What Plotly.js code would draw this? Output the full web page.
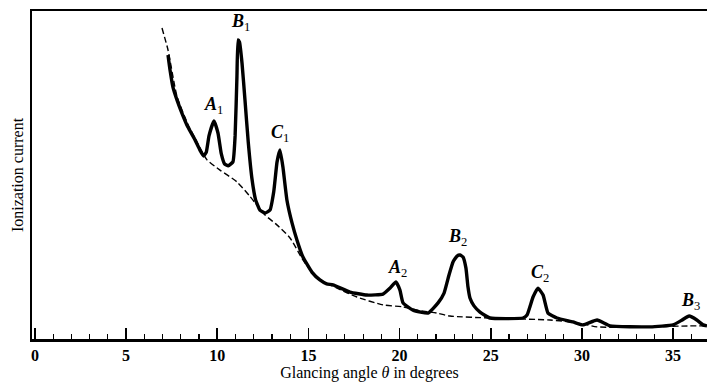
<!DOCTYPE html>
<html>
<head>
<meta charset="utf-8">
<script src="https://cdn.plot.ly/plotly-3.0.1.min.js"></script>
<style>html,body{margin:0;padding:0;background:#fff}#chart{width:707px;height:388px}</style>
</head>
<body>
<div id="chart"></div>
<script>
// Glancing angle (degrees) and ionization current (arbitrary units, 0-100)
const measuredAngle = [7.30, 7.41, 7.57, 7.79, 8.06, 8.39, 8.78, 9.05, 9.25, 9.40, 9.55, 9.82, 10.04, 10.22, 10.40, 10.60, 10.86, 10.98, 11.08, 11.14, 11.22, 11.36, 11.52, 11.70, 11.90, 12.10, 12.34, 12.62, 12.89, 13.10, 13.28, 13.44, 13.60, 13.82, 14.10, 14.37, 14.70, 15.19, 15.63, 16.00, 16.35, 17.28, 18.21, 19.09, 19.47, 19.80, 20.02, 20.19, 20.74, 21.56, 22.11, 22.44, 22.71, 22.93, 23.15, 23.31, 23.48, 23.64, 23.75, 23.86, 24.08, 24.41, 24.96, 26.77, 26.99, 27.32, 27.59, 27.87, 28.14, 28.63, 29.51, 30.06, 30.83, 31.54, 33.74, 35.00, 35.50, 35.88, 36.30, 36.64, 36.86];
const measuredCurrent = [86.6, 82.0, 76.8, 72.9, 68.9, 64.6, 60.7, 57.6, 55.8, 57.0, 62.0, 66.5, 62.8, 56.5, 53.4, 52.8, 54.0, 62.0, 80.0, 91.2, 90.5, 84.0, 72.9, 60.0, 49.0, 42.5, 39.3, 38.4, 39.3, 45.0, 54.0, 57.6, 52.5, 42.4, 35.4, 30.2, 25.0, 20.4, 18.0, 16.8, 16.5, 14.3, 13.4, 13.7, 15.5, 17.4, 14.9, 11.0, 8.8, 7.9, 11.0, 14.0, 19.5, 23.5, 25.3, 25.6, 25.0, 21.6, 15.9, 12.5, 10.1, 8.2, 6.4, 6.4, 7.3, 12.8, 15.5, 13.4, 7.9, 6.4, 5.2, 4.3, 5.8, 4.0, 3.7, 4.3, 5.8, 7.0, 5.8, 4.3, 4.0];

const backgroundAngle = [6.97, 7.30, 7.79, 8.39, 8.89, 9.44, 10.15, 11.08, 11.79, 12.62, 13.27, 13.99, 14.70, 15.47, 16.57, 17.66, 19.09, 20.19, 20.95, 22.05, 22.76, 24.96, 28.25, 29.35, 30.06, 30.83, 33.74, 35.93, 36.86];
const backgroundCurrent = [94.8, 88.1, 74.0, 65.5, 60.0, 54.6, 51.5, 47.9, 43.5, 37.8, 34.8, 30.8, 24.1, 18.6, 15.5, 12.8, 10.4, 9.8, 8.8, 7.9, 7.0, 6.4, 5.8, 5.2, 4.6, 3.7, 3.7, 4.0, 4.0];

const peakNames = ["<b><i>A</i></b><sub>1</sub>", "<b><i>B</i></b><sub>1</sub>", "<b><i>C</i></b><sub>1</sub>", "<b><i>A</i></b><sub>2</sub>", "<b><i>B</i></b><sub>2</sub>", "<b><i>C</i></b><sub>2</sub>", "<b><i>B</i></b><sub>3</sub>"];
const peakAngle = [9.82, 11.25, 13.44, 19.91, 23.2, 27.7, 35.93];
const peakLabelCurrent = [71.3, 96.6, 62.8, 21.6, 30.8, 20.1, 11.3];

const xTickValues = [0, 5, 10, 15, 20, 25, 30, 35];
const xTickLabels = ["0", "5", "10", "15", "20", "25", "30", "35"];

const serif = "Liberation Serif, DejaVu Serif, serif";

const traces = [
  {x: backgroundAngle, y: backgroundCurrent, mode: "lines", line: {color: "#000", width: 1.4, dash: "6px,3px", shape: "spline", smoothing: 0.6}, hoverinfo: "skip"},
  {x: measuredAngle, y: measuredCurrent, mode: "lines", line: {color: "#000", width: 3.4, shape: "spline", smoothing: 0.4}, hoverinfo: "skip"}
];

const annotations = peakNames.map((t, i) => ({
  x: peakAngle[i], y: peakLabelCurrent[i], xref: "x", yref: "y", text: t, showarrow: false,
  font: {family: serif, size: 18, color: "#000"}
}));

const layout = {
  width: 707, height: 388,
  margin: {l: 32, r: 0, t: 11, b: 49},
  paper_bgcolor: "#fff", plot_bgcolor: "#fff",
  showlegend: false,
  xaxis: {
    range: [-0.16, 36.86], showgrid: false, zeroline: false,
    showline: true, linewidth: 2.5, linecolor: "#000", mirror: true,
    tickmode: "array", tickvals: xTickValues, ticktext: xTickLabels,
    ticks: "inside", ticklen: 11, tickwidth: 1.6, tickcolor: "#000",
    minor: {dtick: 1, ticks: "inside", ticklen: 5, tickwidth: 1.2, tickcolor: "#000", showgrid: false},
    tickfont: {family: serif, size: 16, color: "#000", weight: "bold"},
    title: {text: "Glancing angle <i>θ</i> in degrees", font: {family: serif, size: 16, color: "#000"}, standoff: 4}
  },
  yaxis: {
    range: [0, 100], showgrid: false, zeroline: false,
    showline: true, linewidth: 2.5, linecolor: "#000",
    showticklabels: false, ticks: "",
    title: {text: "Ionization current", font: {family: serif, size: 16, color: "#000"}, standoff: 2}
  },
  annotations: annotations
};

Plotly.newPlot("chart", traces, layout, {displayModeBar: false, staticPlot: true});
</script>
</body>
</html>
